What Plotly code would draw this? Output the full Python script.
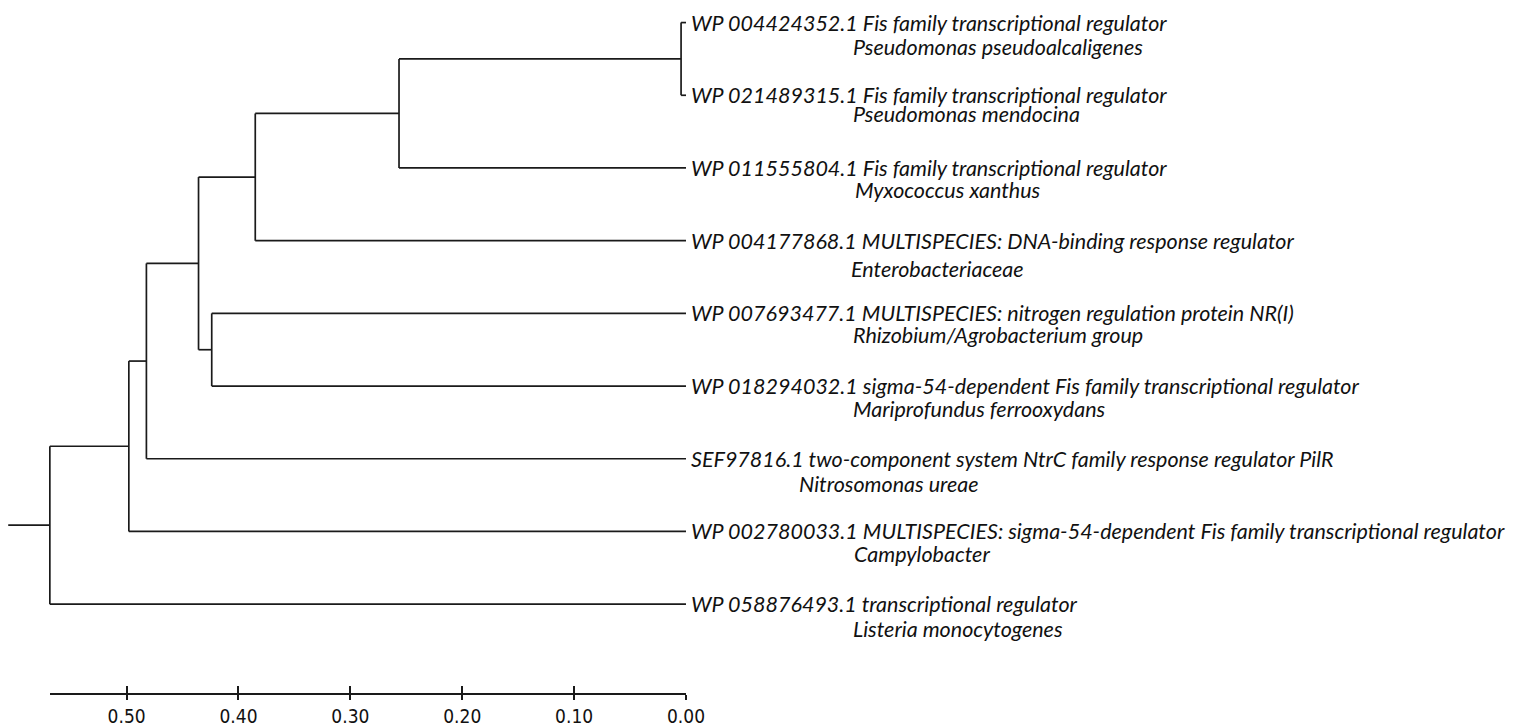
import plotly.graph_objects as go

# ---------------- data ----------------
leaf_ids = [
    "WP 004424352.1 Fis family transcriptional regulator",
    "WP 021489315.1 Fis family transcriptional regulator",
    "WP 011555804.1 Fis family transcriptional regulator",
    "WP 004177868.1 MULTISPECIES: DNA-binding response regulator",
    "WP 007693477.1 MULTISPECIES: nitrogen regulation protein NR(I)",
    "WP 018294032.1 sigma-54-dependent Fis family transcriptional regulator",
    "SEF97816.1 two-component system NtrC family response regulator PilR",
    "WP 002780033.1 MULTISPECIES: sigma-54-dependent Fis family transcriptional regulator",
    "WP 058876493.1 transcriptional regulator",
]
leaf_species = [
    "Pseudomonas pseudoalcaligenes",
    "Pseudomonas mendocina",
    "Myxococcus xanthus",
    "Enterobacteriaceae",
    "Rhizobium/Agrobacterium group",
    "Mariprofundus ferrooxydans",
    "Nitrosomonas ureae",
    "Campylobacter",
    "Listeria monocytogenes",
]
# internal nodes (indices >= 9), children and node height (distance)
node_left = [0, 9, 10, 4, 11, 13, 14, 15]
node_right = [1, 2, 3, 5, 12, 6, 7, 8]
node_height = [0.0044, 0.2565, 0.385, 0.4239, 0.4357, 0.4823, 0.498, 0.5686]
root_stub = 0.6058

scale_vals = [0.5, 0.4, 0.3, 0.2, 0.1, 0.0]
scale_text = ["0.50", "0.40", "0.30", "0.20", "0.10", "0.00"]

# ---------------- style / layout settings ----------------
W, H = 1516, 727
x_zero_px = 694.7
px_per_unit = 1133.0
y_first_px = 22.7
row_px = 73.1
axis_y_px = 698.3
species_indent_px = [167, 167, 169, 165, 167, 167, 113, 168, 167]
species_drop_px = [24, 19, 22, 28, 22, 23, 25, 23, 25]
line_col = "#1a1a1a"
label_font = dict(family="Lato, 'Open Sans', sans-serif", size=21.5, color="#111111", style="italic")
tick_font = dict(family="'Liberation Sans Narrow', 'DejaVu Sans Condensed', sans-serif",
                 size=19, color="#111111")

# ---------------- build tree geometry ----------------
n_leaf = len(leaf_ids)
hx = {i: 0.0 for i in range(n_leaf)}
hy = {i: float(i) for i in range(n_leaf)}
xs, ys = [], []
for k, (a, b, h) in enumerate(zip(node_left, node_right, node_height)):
    nid = n_leaf + k
    hx[nid] = h
    hy[nid] = (hy[a] + hy[b]) / 2
    for c in (a, b):
        xs += [hx[c], h, None]
        ys += [hy[c], hy[c], None]
    xs += [h, h, None]
    ys += [hy[a], hy[b], None]
root = n_leaf + len(node_height) - 1
xs += [hx[root], root_stub]
ys += [hy[root], hy[root]]

fig = go.Figure()
fig.add_trace(go.Scatter(x=xs, y=ys, mode="lines", line=dict(color=line_col, width=1.7),
                         hoverinfo="skip", showlegend=False))

# invisible traces to carry the scale-bar axes
fig.add_trace(go.Scatter(x=[0], y=[0], xaxis="x2", yaxis="y2", mode="markers",
                         marker=dict(opacity=0), hoverinfo="skip", showlegend=False))
fig.add_trace(go.Scatter(x=[0], y=[0], xaxis="x3", yaxis="y2", mode="markers",
                         marker=dict(opacity=0), hoverinfo="skip", showlegend=False))

annotations = []
for i in range(n_leaf):
    annotations.append(dict(x=0, y=i, xref="x", yref="y", text=leaf_ids[i], showarrow=False,
                            xanchor="left", yanchor="middle", xshift=3, font=label_font))
    annotations.append(dict(x=0, y=i, xref="x", yref="y", text=leaf_species[i], showarrow=False,
                            xanchor="left", yanchor="middle", xshift=species_indent_px[i] - 2,
                            yshift=-species_drop_px[i], font=label_font))

x_left = x_zero_px / px_per_unit
x_right = -(W - x_zero_px) / px_per_unit
y_top = -y_first_px / row_px
y_bot = (H - y_first_px) / row_px

root_px = x_zero_px - node_height[-1] * px_per_unit
dom = [root_px / W, x_zero_px / W]
axis_pos = 1 - axis_y_px / H

fig.update_layout(
    width=W, height=H,
    margin=dict(l=0, r=0, t=0, b=0),
    paper_bgcolor="white", plot_bgcolor="rgba(0,0,0,0)",
    showlegend=False,
    xaxis=dict(range=[x_left, x_right], visible=False, domain=[0, 1]),
    yaxis=dict(range=[y_bot, y_top], visible=False, domain=[0, 1]),
    yaxis2=dict(domain=[0, 1], range=[0, 1], visible=False, anchor="x2"),
    xaxis2=dict(domain=dom, range=[node_height[-1], 0], anchor="free", position=axis_pos,
                showline=True, linecolor=line_col, linewidth=1.7,
                ticks="outside", ticklen=5, tickwidth=1.7, tickcolor=line_col,
                tickmode="array", tickvals=scale_vals, ticktext=scale_text,
                tickfont=tick_font, showgrid=False, zeroline=False),
    xaxis3=dict(domain=dom, range=[node_height[-1], 0], anchor="free", position=axis_pos,
                overlaying="x2", showline=False,
                ticks="inside", ticklen=8, tickwidth=1.7, tickcolor=line_col,
                tickmode="array", tickvals=scale_vals, showticklabels=False,
                showgrid=False, zeroline=False),
    annotations=annotations,
)

fig.write_html("out.html")
